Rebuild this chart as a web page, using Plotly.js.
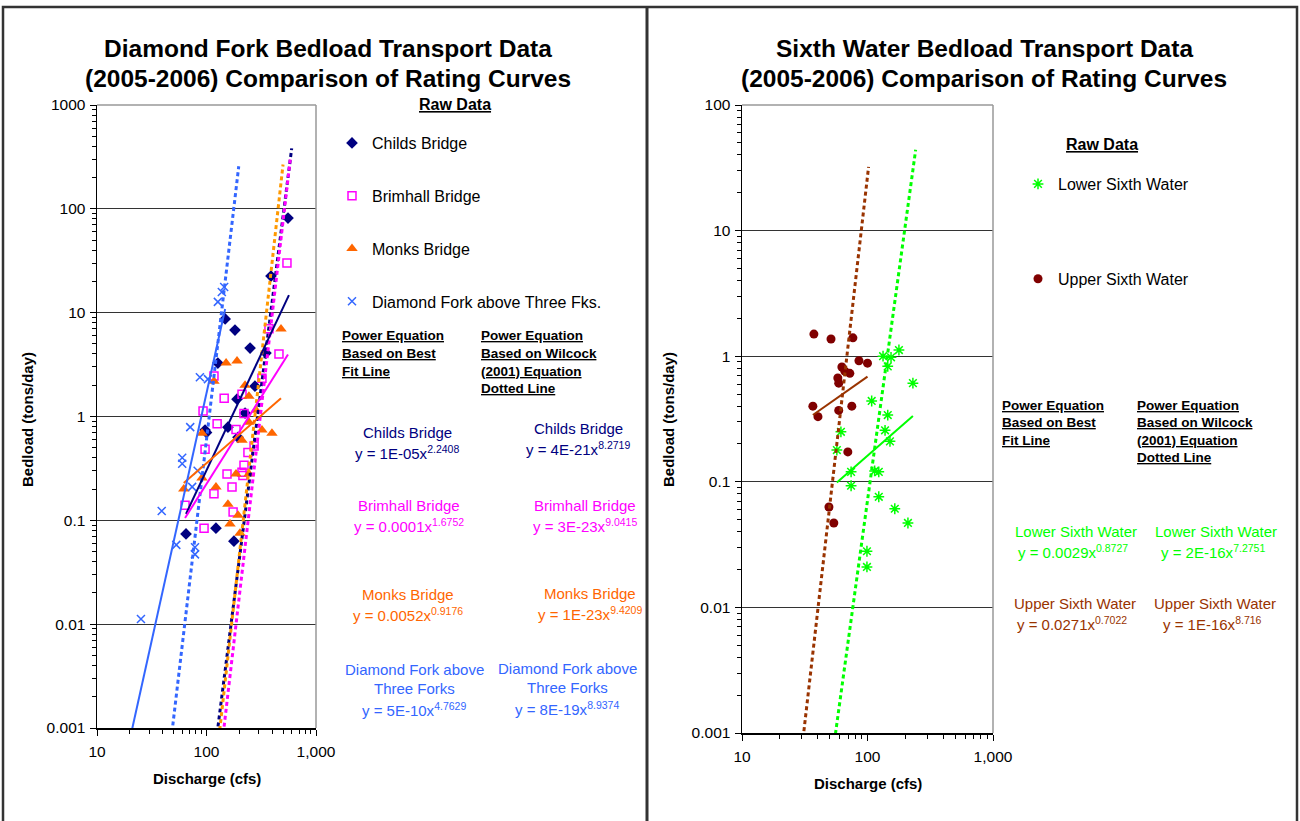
<!DOCTYPE html>
<html>
<head>
<meta charset="utf-8">
<script src="https://cdn.plot.ly/plotly-3.0.1.min.js"></script>
<style>
  html, body { margin: 0; padding: 0; background: #fff; }
  #chart { width: 1300px; height: 821px; }
</style>
</head>
<body>
<div id="chart"></div>
<script>
// ---------- Diamond Fork raw samples: discharge (cfs) vs bedload (tons/day) ----------
const childsQ    = [555, 388, 148, 182, 250, 349, 127, 277, 190, 225, 157, 97, 100, 194, 65, 122, 178];
const childsLoad = [81.5, 22.5, 8.7, 6.8, 4.56, 4.08, 3.27, 1.96, 1.47, 1.08, 0.79, 0.74, 0.70, 0.63, 0.074, 0.084, 0.063];

const brimQ    = [543, 372, 459, 117, 145, 211, 321, 93, 220, 125, 186, 272, 239, 97, 220, 211, 154, 215, 171, 117, 63.7, 175, 95];
const brimLoad = [30.1, 7.0, 3.99, 2.45, 1.5, 1.64, 2.34, 1.13, 1.07, 0.85, 0.75, 0.52, 0.45, 0.485, 0.34, 0.29, 0.28, 0.27, 0.21, 0.18, 0.14, 0.12, 0.084];

const monksQ    = [479, 151, 190, 117, 225, 244, 283, 244, 321, 396, 91, 211, 186, 244, 91, 122, 62, 157, 194, 164, 202];
const monksLoad = [6.95, 3.27, 3.42, 2.19, 2.0, 1.57, 1.15, 0.88, 0.74, 0.69, 0.69, 0.59, 0.28, 0.28, 0.255, 0.21, 0.20, 0.143, 0.112, 0.092, 0.075];

const dfQ    = [145, 138, 127, 87, 103, 71, 60, 60, 83, 74, 39, 53, 78.5, 78.5, 25.2];
const dfLoad = [17.7, 15.8, 12.7, 2.39, 2.29, 0.79, 0.40, 0.35, 0.30, 0.21, 0.123, 0.058, 0.055, 0.047, 0.0112];

// ---------- Sixth Water raw samples ----------
const lowerQ    = [133, 154, 178, 145, 230, 108, 145, 61.4, 138, 57, 151, 74, 114, 123, 74, 123, 165, 210, 99, 99];
const lowerLoad = [1.0, 0.98, 1.12, 0.83, 0.61, 0.44, 0.34, 0.25, 0.257, 0.179, 0.21, 0.12, 0.122, 0.12, 0.093, 0.076, 0.061, 0.047, 0.028, 0.021];

const upperQ    = [37.4, 51.2, 76.5, 85.5, 100, 62.5, 66, 72.3, 58, 59, 36.7, 75, 59, 40.3, 69.7, 49.3, 53.9];
const upperLoad = [1.50, 1.37, 1.40, 0.92, 0.88, 0.82, 0.76, 0.73, 0.67, 0.61, 0.40, 0.40, 0.37, 0.33, 0.173, 0.063, 0.047];

// ---------- Power equations y = a * x^b (coefficient and exponent as printed) ----------
// Best-fit trendlines (solid), Diamond Fork sites: Childs, Brimhall, Monks, Diamond Fork above Three Forks
const fitCoefDF = ['1E-05', '0.0001', '0.0052', '5E-10'];
const fitExpDF  = ['2.2408', '1.6752', '0.9176', '4.7629'];
const fitSpanDF = [[65, 566], [63.7, 555], [62, 479], [20, 148]];
// Wilcock (2001) curves (dotted)
const wilCoefDF = ['4E-21', '3E-23', '1E-23', '8E-19'];
const wilExpDF  = ['8.2719', '9.0415', '9.4209', '8.9374'];
const wilSpanDF = [[100, 600], [120, 585], [100, 500], [40, 197]];

// Sixth Water sites: Lower, Upper
const fitCoefSW = ['0.0029', '0.0271'];
const fitExpSW  = ['0.8727', '0.7022'];
const fitSpanSW = [[57, 230], [36.7, 100]];
const wilCoefSW = ['2E-16', '1E-16'];
const wilExpSW  = ['7.2751', '8.716'];
const wilSpanSW = [[50, 242], [25, 102]];

// ---------- Axis ticks ----------
const xTickVals = [10, 100, 1000];
const xTickText = ['10', '100', '1,000'];
const yTickValsDF = [0.001, 0.01, 0.1, 1, 10, 100, 1000];
const yTickTextDF = ['0.001', '0.01', '0.1', '1', '10', '100', '1000'];
const yTickValsSW = [0.001, 0.01, 0.1, 1, 10, 100];
const yTickTextSW = ['0.001', '0.01', '0.1', '1', '10', '100'];

// ---------- helpers ----------
const W = 1300, H = 821;
const px = v => v / W;
const py = v => 1 - v / H;
const FONT = 'Arial, "Liberation Sans", sans-serif';

function minorTicks(lo, hi) {
  const out = [];
  for (let e = lo; e < hi; e++) for (let d = 2; d <= 9; d++) out.push(d * Math.pow(10, e));
  return out;
}
function powerCurve(coef, exp, span, xa, ya, color, dash, width) {
  const a = Number(coef), b = Number(exp);
  return {
    x: span, y: span.map(q => a * Math.pow(q, b)),
    xaxis: xa, yaxis: ya, mode: 'lines', showlegend: false, hoverinfo: 'skip',
    line: { color: color, width: width, dash: dash }
  };
}
function rawTrace(name, q, load, xa, ya, legend, marker) {
  return { name: name, x: q, y: load, xaxis: xa, yaxis: ya, legend: legend,
           mode: 'markers', marker: marker, legendgroup: name };
}

// ---------- colours ----------
const cChilds = '#000080', cBrim = '#FF00FF', cMonks = '#FF6600', cMonksW = '#FF9900', cDF = '#3366FF';
const cLower = '#00FF00', cUpperPt = '#800000', cUpperLn = '#993300';
const dotted = '4px,3px';
const dfColors = [cChilds, cBrim, cMonks, cDF];
const dfWilColors = [cChilds, cBrim, cMonksW, cDF];

const traces = [
  rawTrace('Childs Bridge', childsQ, childsLoad, 'x', 'y', 'legend',
    { symbol: 'diamond', size: 9, color: cChilds }),
  rawTrace('Brimhall Bridge', brimQ, brimLoad, 'x', 'y', 'legend',
    { symbol: 'square-open', size: 8, color: cBrim, line: { color: cBrim, width: 1.5 } }),
  rawTrace('Monks Bridge', monksQ, monksLoad, 'x', 'y', 'legend',
    { symbol: 'triangle-up', size: 10, color: cMonks }),
  rawTrace('Diamond Fork above Three Fks.', dfQ, dfLoad, 'x', 'y', 'legend',
    { symbol: 'x-thin-open', size: 8, color: cDF, line: { color: cDF, width: 1.5 } }),
  rawTrace('Lower Sixth Water', lowerQ, lowerLoad, 'x2', 'y2', 'legend2',
    { symbol: 'asterisk-open', size: 9, color: cLower, line: { color: cLower, width: 1.5 } }),
  rawTrace('Upper Sixth Water', upperQ, upperLoad, 'x2', 'y2', 'legend2',
    { symbol: 'circle', size: 9, color: cUpperPt })
];
for (let i = 0; i < 4; i++) {
  traces.push(powerCurve(wilCoefDF[i], wilExpDF[i], wilSpanDF[i], 'x', 'y', dfWilColors[i], dotted, 3));
}
for (let i = 0; i < 4; i++) {
  traces.push(powerCurve(fitCoefDF[i], fitExpDF[i], fitSpanDF[i], 'x', 'y', dfColors[i], 'solid', 2));
}
const swColors = [cLower, cUpperLn];
for (let i = 0; i < 2; i++) {
  traces.push(powerCurve(wilCoefSW[i], wilExpSW[i], wilSpanSW[i], 'x2', 'y2', swColors[i], dotted, 3));
  traces.push(powerCurve(fitCoefSW[i], fitExpSW[i], fitSpanSW[i], 'x2', 'y2', swColors[i], 'solid', 2));
}

// ---------- axes ----------
const TICKFONT = { family: FONT, size: 15.5, color: '#000' };
function xAxis(domain, anchor) {
  return {
    type: 'log', range: [1, 3], domain: domain, anchor: anchor,
    tickmode: 'array', tickvals: xTickVals, ticktext: xTickText,
    ticks: 'outside', ticklen: 6, tickwidth: 1, tickcolor: '#000',
    showline: true, linecolor: '#000', linewidth: 1.5,
    showgrid: false, zeroline: false, ticklabelstandoff: 3,
    tickfont: TICKFONT,
    minor: { tickmode: 'array', tickvals: minorTicks(1, 3), ticks: 'outside', ticklen: 4, tickcolor: '#000', showgrid: false }
  };
}
function yAxis(domain, anchor, range, vals, text) {
  return {
    type: 'log', range: range, domain: domain, anchor: anchor,
    tickmode: 'array', tickvals: vals, ticktext: text,
    ticks: 'outside', ticklen: 6, tickwidth: 1, tickcolor: '#000',
    showline: true, linecolor: '#000', linewidth: 1.5,
    showgrid: true, gridcolor: '#333', gridwidth: 1, zeroline: false,
    tickfont: TICKFONT, ticklabelstandoff: 1,
    minor: { tickmode: 'array', tickvals: minorTicks(range[0], range[1]), ticks: 'outside', ticklen: 4, tickcolor: '#000', showgrid: false }
  };
}
// inward tick copies so the tick marks cross the axis lines
function xCross(over, anchor) {
  return {
    type: 'log', range: [1, 3], overlaying: over, anchor: anchor,
    tickmode: 'array', tickvals: xTickVals, ticks: 'inside', ticklen: 3, tickcolor: '#000',
    showticklabels: false, showline: false, showgrid: false, zeroline: false,
    minor: { tickmode: 'array', tickvals: minorTicks(1, 3), ticks: 'inside', ticklen: 3, tickcolor: '#000', showgrid: false }
  };
}
function yCross(over, anchor, range, vals) {
  return {
    type: 'log', range: range, overlaying: over, anchor: anchor,
    tickmode: 'array', tickvals: vals, ticks: 'inside', ticklen: 3, tickcolor: '#000',
    showticklabels: false, showline: false, showgrid: false, zeroline: false,
    minor: { tickmode: 'array', tickvals: minorTicks(range[0], range[1]), ticks: 'inside', ticklen: 3, tickcolor: '#000', showgrid: false }
  };
}

// ---------- text ----------
const ann = [];
function txt(text, x, y, size, color, opts) {
  ann.push(Object.assign({
    text: text, x: px(x), y: py(y), xref: 'paper', yref: 'paper',
    xanchor: 'center', yanchor: 'middle', showarrow: false,
    font: { family: FONT, size: size, color: color }
  }, opts || {}));
}
const bold = (s) => '<b>' + s + '</b>';
const ul = (s) => '<u>' + s + '</u>';
const eq = (c, e) => 'y = ' + c + 'x<sup>' + e + '</sup>';

// titles
txt(bold('Diamond Fork Bedload Transport Data'), 328, 48, 24.5, '#000');
txt(bold('(2005-2006) Comparison of Rating Curves'), 328, 78, 24.5, '#000');
txt(bold('Sixth Water Bedload Transport Data'), 984, 48, 24.5, '#000');
txt(bold('(2005-2006) Comparison of Rating Curves'), 984, 78, 24.5, '#000');
// axis titles
txt(bold('Bedload (tons/day)'), 28, 420, 15, '#000', { textangle: -90 });
txt(bold('Bedload (tons/day)'), 669, 420, 15, '#000', { textangle: -90 });
txt(bold('Discharge (cfs)'), 207, 778, 15, '#000');
txt(bold('Discharge (cfs)'), 868, 783, 15, '#000');
// legend headings
txt(bold(ul('Raw Data')), 455, 104, 16, '#000');
txt(bold(ul('Raw Data')), 1102, 145, 16, '#000');

// equation column headings
function headings(xl, xr, ytop) {
  const hl = ['Power Equation', 'Based on Best', 'Fit Line'];
  const hr = ['Power Equation', 'Based on Wilcock', '(2001) Equation', 'Dotted Line'];
  hl.forEach((s, i) => txt(bold(ul(s)), xl, ytop + i * 17.5, 13.5, '#000', { xanchor: 'left' }));
  hr.forEach((s, i) => txt(bold(ul(s)), xr, ytop + i * 17.5, 13.5, '#000', { xanchor: 'left' }));
}
headings(340, 479, 336);
headings(1000, 1135, 405);

// Diamond Fork equation labels
const dfNames = [['Childs Bridge'], ['Brimhall Bridge'], ['Monks Bridge'], ['Diamond Fork above', 'Three Forks']];
const dfLeftPos  = [[407, 432], [409, 505], [408, 594], [414, 669]];
const dfRightPos = [[578, 428], [585, 505], [590, 593], [567, 668]];
for (let i = 0; i < 4; i++) {
  const col = dfColors[i];
  [[dfLeftPos[i], fitCoefDF[i], fitExpDF[i]], [dfRightPos[i], wilCoefDF[i], wilExpDF[i]]].forEach(([p, c, e]) => {
    dfNames[i].forEach((n, k) => txt(n, p[0], p[1] + k * 19.5, 15, col));
    txt(eq(c, e), p[0], p[1] + dfNames[i].length * 19.5 + 1, 15, col);
  });
}
// Sixth Water equation labels
const swNames = ['Lower Sixth Water', 'Upper Sixth Water'];
const swLeftPos  = [[1076, 531], [1075, 603]];
const swRightPos = [[1216, 531], [1215, 603]];
for (let i = 0; i < 2; i++) {
  const col = swColors[i];
  [[swLeftPos[i], fitCoefSW[i], fitExpSW[i]], [swRightPos[i], wilCoefSW[i], wilExpSW[i]]].forEach(([p, c, e]) => {
    txt(swNames[i], p[0], p[1], 15, col);
    txt(eq(c, e), p[0] - 3, p[1] + 20, 15, col);
  });
}

// ---------- frames ----------
const shapes = [
  { type: 'rect', xref: 'paper', yref: 'paper', x0: px(3), x1: px(1297), y0: py(830), y1: py(7),
    line: { color: '#333', width: 2.5 }, fillcolor: 'rgba(0,0,0,0)' },
  { type: 'line', xref: 'paper', yref: 'paper', x0: px(647), x1: px(647), y0: py(830), y1: py(7),
    line: { color: '#333', width: 3 } }
];
[['x', 'y'], ['x2', 'y2']].forEach(([xa, ya]) => {
  shapes.push({ type: 'line', xref: xa + ' domain', yref: ya + ' domain', x0: 0, x1: 1, y0: 1, y1: 1,
                line: { color: '#999', width: 1.5 } });
  shapes.push({ type: 'line', xref: xa + ' domain', yref: ya + ' domain', x0: 1, x1: 1, y0: 0, y1: 1,
                line: { color: '#999', width: 1.5 } });
});

const layout = {
  width: W, height: H,
  margin: { l: 0, r: 0, t: 0, b: 0 },
  paper_bgcolor: '#fff', plot_bgcolor: '#fff',
  font: { family: FONT, color: '#000' },
  xaxis:  xAxis([px(97), px(316)], 'y'),
  yaxis:  yAxis([py(728), py(105)], 'x', [-3, 3], yTickValsDF, yTickTextDF),
  xaxis2: xAxis([px(742), px(993)], 'y2'),
  yaxis2: yAxis([py(733), py(105)], 'x2', [-3, 2], yTickValsSW, yTickTextSW),
  xaxis3: xCross('x', 'y'),
  yaxis3: yCross('y', 'x', [-3, 3], yTickValsDF),
  xaxis4: xCross('x2', 'y2'),
  yaxis4: yCross('y2', 'x2', [-3, 2], yTickValsSW),
  legend: {
    x: px(332), y: py(126), xanchor: 'left', yanchor: 'top',
    font: { family: FONT, size: 16, color: '#000' },
    tracegroupgap: 29, bgcolor: 'rgba(0,0,0,0)', borderwidth: 0
  },
  legend2: {
    x: px(1018), y: py(167), xanchor: 'left', yanchor: 'top',
    font: { family: FONT, size: 16, color: '#000' },
    tracegroupgap: 71, bgcolor: 'rgba(0,0,0,0)', borderwidth: 0
  },
  showlegend: true,
  annotations: ann,
  shapes: shapes
};

Plotly.newPlot('chart', traces, layout, { staticPlot: true });
</script>
</body>
</html>
